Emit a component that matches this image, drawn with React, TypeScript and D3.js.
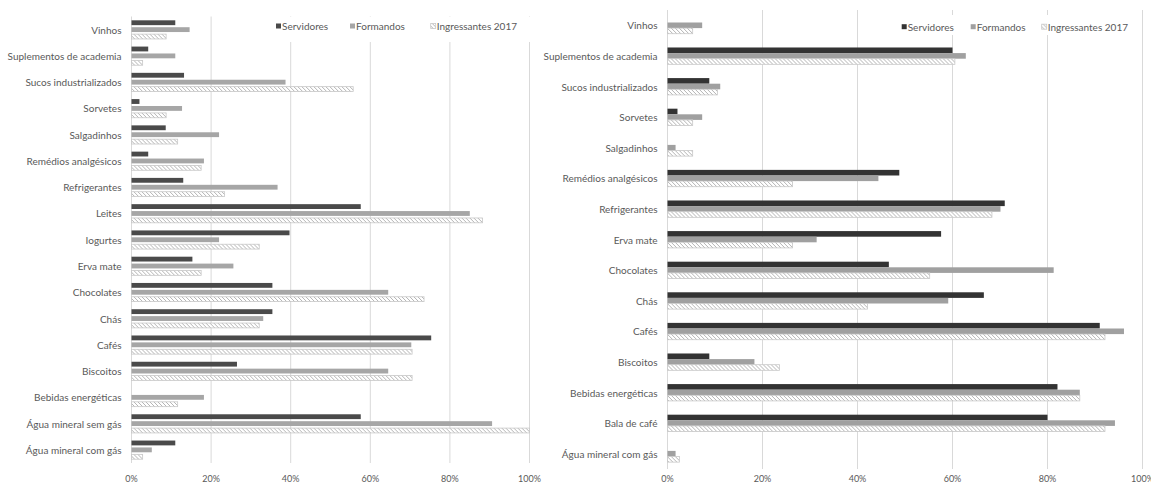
import * as d3 from "d3";

const series = ["Servidores", "Formandos", "Ingressantes 2017"];

const leftCategories = [
  "Vinhos", "Suplementos de academia", "Sucos industrializados", "Sorvetes",
  "Salgadinhos", "Remédios analgésicos", "Refrigerantes", "Leites", "Iogurtes",
  "Erva mate", "Chocolates", "Chás", "Cafés", "Biscoitos", "Bebidas energéticas",
  "Água mineral sem gás", "Água mineral com gás",
];
const leftServidores = [11, 4.2, 13.2, 2, 8.6, 4.2, 13, 57.6, 39.7, 15.3, 35.4, 35.4, 75.3, 26.5, 0, 57.6, 11];
const leftFormandos = [14.6, 11, 38.7, 12.7, 22, 18.2, 36.7, 85, 22, 25.6, 64.5, 33.1, 70.3, 64.5, 18.2, 90.6, 5.1];
const leftIngressantes = [8.7, 2.8, 55.7, 8.7, 11.6, 17.5, 23.4, 88.2, 32.1, 17.5, 73.5, 32.1, 70.5, 70.5, 11.6, 100, 2.8];

const rightCategories = [
  "Vinhos", "Suplementos de academia", "Sucos industrializados", "Sorvetes",
  "Salgadinhos", "Remédios analgésicos", "Refrigerantes", "Erva mate",
  "Chocolates", "Chás", "Cafés", "Biscoitos", "Bebidas energéticas",
  "Bala de café", "Água mineral com gás",
];
const rightServidores = [0, 60, 8.8, 2.1, 0, 48.8, 71, 57.6, 46.6, 66.6, 91, 8.8, 82.1, 80, 0];
const rightFormandos = [7.3, 62.8, 11.1, 7.3, 1.7, 44.4, 70.1, 31.4, 81.3, 59.1, 96.1, 18.3, 86.8, 94.2, 1.7];
const rightIngressantes = [5.3, 60.5, 10.5, 5.3, 5.3, 26.3, 68.3, 26.3, 55.2, 42.1, 92.1, 23.6, 86.8, 92.1, 2.5];

const xTicks = [0, 20, 40, 60, 80, 100];

const FONT = "Lato, 'Open Sans', sans-serif";
const TEXT = "#595959";

type ChartProps = {
  id: string;
  categories: string[];
  values: number[][];
  x0: number;
  x1: number;
  y0: number;
  y1: number;
  pad: number;
  subPad: number;
  dark: string;
  gray: string;
  legend: { x: number; y: number; box: [number, number, number, number]; offsets: number[] };
};

function Chart({ id, categories, values, x0, x1, y0, y1, pad, subPad, dark, gray, legend }: ChartProps) {
  const x = d3.scaleLinear().domain([0, 100]).range([x0, x1]);
  const y = d3.scaleBand<string>().domain(categories).range([y0, y1]).paddingInner(pad).paddingOuter(pad / 2);
  const ys = d3.scaleBand<number>().domain([0, 1, 2]).range([0, y.bandwidth()]).paddingInner(subPad);
  const fills = [dark, gray, `url(#hatch-${id})`];
  const strokes = ["none", "none", "#c8c8c8"];

  return (
    <g>
      <defs>
        <pattern id={`hatch-${id}`} width={4} height={4} patternUnits="userSpaceOnUse">
          <rect width={4} height={4} fill="#fff" />
          <path d="M-1,-1 L5,5 M3,-1 L5,1 M-1,3 L1,5" stroke="#b4b4b4" strokeWidth={1} />
        </pattern>
      </defs>
      {/* gridlines */}
      {xTicks.map((t) => (
        <line key={t} x1={x(t)} x2={x(t)} y1={y0} y2={y1} stroke="#d9d9d9" strokeWidth={1} />
      ))}
      {/* bars */}
      {categories.map((c, i) => (
        <g key={c} transform={`translate(0,${y(c)})`}>
          {values.map((vals, s) =>
            vals[i] > 0 ? (
              <rect
                key={s}
                x={x(0)}
                y={ys(s)}
                width={x(vals[i]) - x(0)}
                height={ys.bandwidth()}
                fill={fills[s]}
                stroke={strokes[s]}
                strokeWidth={0.8}
              />
            ) : null
          )}
        </g>
      ))}
      {/* category labels */}
      {categories.map((c) => (
        <text
          key={c}
          x={x0 - 10}
          y={(y(c) ?? 0) + y.bandwidth() / 2}
          textAnchor="end"
          dominantBaseline="central"
          fontSize={10}
          fill={TEXT}
        >
          {c}
        </text>
      ))}
      {/* x axis labels */}
      {xTicks.map((t) => (
        <text key={t} x={x(t)} y={478} textAnchor="middle" dominantBaseline="central" fontSize={9} fill={TEXT}>
          {t + "%"}
        </text>
      ))}
      {/* legend */}
      <rect x={legend.box[0]} y={legend.box[1]} width={legend.box[2]} height={legend.box[3]} fill="#fff" />
      {series.map((s, i) => (
        <g key={s} transform={`translate(${legend.x + legend.offsets[i]},${legend.y})`}>
          <rect
            x={0}
            y={-2.5}
            width={5}
            height={5}
            fill={fills[i]}
            stroke={strokes[i]}
            strokeWidth={0.8}
          />
          <text x={6} y={0} dominantBaseline="central" fontSize={10} fill={TEXT}>
            {s}
          </text>
        </g>
      ))}
    </g>
  );
}

export default function App() {
  return (
    <svg
      width={1151}
      height={486}
      style={{ position: "absolute", left: 0, top: 0, background: "#fff" }}
      fontFamily={FONT}
    >
      <rect width={1151} height={486} fill="#fff" />
      <Chart
        id="l"
        categories={leftCategories}
        values={[leftServidores, leftFormandos, leftIngressantes]}
        x0={131.5}
        x1={529.5}
        y0={16.5}
        y1={463}
        pad={0.29}
        subPad={0.3}
        dark="#4a4a4a"
        gray="#a6a6a6"
        legend={{ x: 276, y: 26, box: [266, 17, 270, 25], offsets: [0, 74, 154.7] }}
      />
      <Chart
        id="r"
        categories={rightCategories}
        values={[rightServidores, rightFormandos, rightIngressantes]}
        x0={667.5}
        x1={1142.5}
        y0={10}
        y1={469}
        pad={0.45}
        subPad={0}
        dark="#333333"
        gray="#a0a0a0"
        legend={{ x: 901.7, y: 26.7, box: [895, 15, 240, 20], offsets: [0, 69, 140] }}
      />
    </svg>
  );
}
